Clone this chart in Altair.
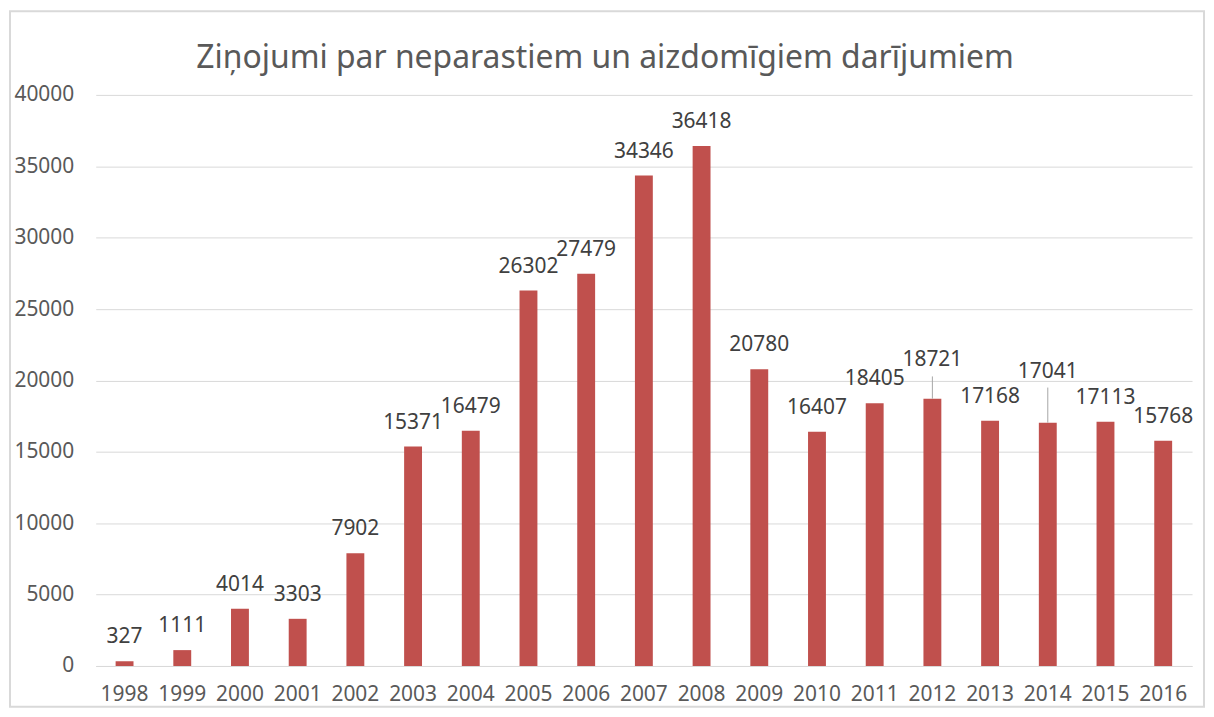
import altair as alt
import pandas as pd

years = [str(y) for y in range(1998, 2017)]
counts = [327, 1111, 4014, 3303, 7902, 15371, 16479, 26302, 27479, 34346,
          36418, 20780, 16407, 18405, 18721, 17168, 17041, 17113, 15768]
# labels lifted higher (with a leader line) in the original, in data units
label_extra = {"2012": 1000, "2014": 1900}
y_ticks = list(range(0, 40001, 5000))
title_text = "Ziņojumi par neparastiem un aizdomīgiem darījumiem"

FONT = "Noto Sans"
px = 40000 / 573.0

df = pd.DataFrame({"year": years, "count": counts})
df["extra"] = df["year"].map(label_extra).fillna(0)
df["label_y"] = df["count"] + df["extra"]
df["leader_top"] = df["count"] + df["extra"] + 8 * px
leaders = df[df["extra"] > 0]

x_enc = alt.X(
    "year:N",
    sort=years,
    scale=alt.Scale(paddingInner=0.69, paddingOuter=0.345),
    axis=alt.Axis(title=None, labelAngle=0, ticks=False, domainColor="#d9d9d9",
                  domainWidth=1, labelFontSize=21, labelFont=FONT,
                  labelColor="#595959", labelBaseline="alphabetic",
                  labelPadding=35),
)
y_scale = alt.Scale(domain=[0, 40000])

bars = alt.Chart(df).mark_bar(color="#C0504D").encode(
    x=x_enc,
    y=alt.Y("count:Q", scale=y_scale,
            axis=alt.Axis(values=y_ticks, format="d", title=None, ticks=False,
                          domain=False, gridColor="#d9d9d9", gridWidth=1,
                          labelFontSize=21, labelFont=FONT, labelColor="#595959",
                          labelPadding=22)),
)

rules = alt.Chart(leaders).mark_rule(color="#a6a6a6", strokeWidth=1).encode(
    x=alt.X("year:N", sort=years),
    y=alt.Y("count:Q", scale=y_scale),
    y2="leader_top:Q",
)

labels = alt.Chart(df).mark_text(dy=-18, fontSize=21, font=FONT, color="#404040",
                                 baseline="alphabetic").encode(
    x=alt.X("year:N", sort=years),
    y=alt.Y("label_y:Q", scale=y_scale),
    text=alt.Text("count:Q", format="d"),
)

title = alt.Chart(pd.DataFrame({"t": [title_text]})).mark_text(
    fontSize=32, font=FONT, color="#595959", baseline="middle", align="center"
).encode(x=alt.value(511), y=alt.value(-37), text="t:N")

border = alt.Chart(pd.DataFrame({"a": [0]})).mark_rect(
    fill="transparent", stroke="#d9d9d9", strokeWidth=2).encode(
    x=alt.value(-86), x2=alt.value(1112), y=alt.value(-84), y2=alt.value(614)
)

chart = alt.layer(border, title, bars, rules, labels).properties(
    width=1100,
    height=573,
    autosize=alt.AutoSizeParams(type="none"),
    padding={"left": 88, "top": 86, "right": 14, "bottom": 42},
).configure_view(stroke=None)

chart.save("out.html", embed_options={"renderer": "svg", "actions": False})
